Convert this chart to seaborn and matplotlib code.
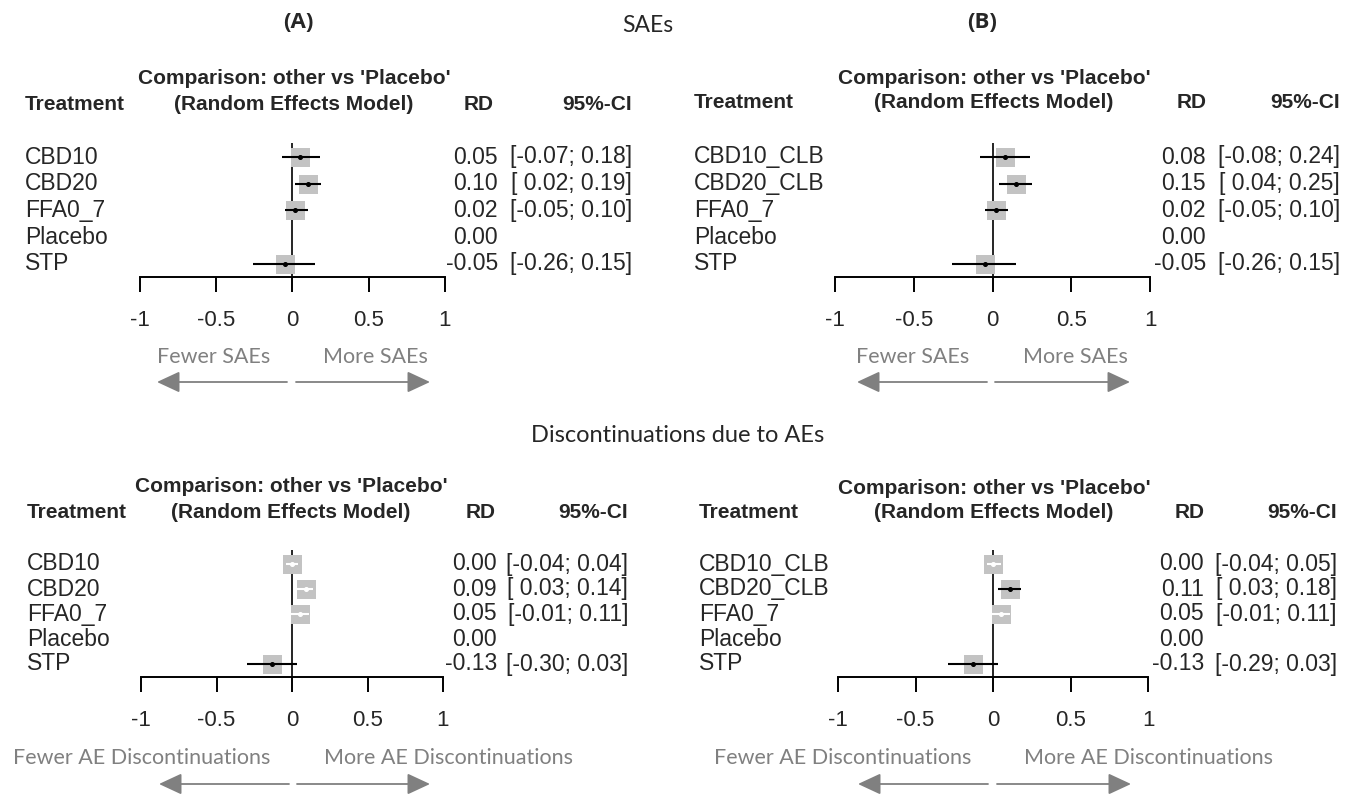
import numpy as np
import pandas as pd
import matplotlib
matplotlib.use("Agg")
import matplotlib.pyplot as plt
import seaborn as sns
from matplotlib.transforms import blended_transform_factory
from matplotlib.patches import FancyArrowPatch
from matplotlib.ticker import FuncFormatter

# ---------------- data ----------------
treat_plain = ["CBD10", "CBD20", "FFA0_7", "Placebo", "STP"]
treat_clb = ["CBD10_CLB", "CBD20_CLB", "FFA0_7", "Placebo", "STP"]

sae_a_rd = [0.05, 0.10, 0.02, 0.00, -0.05]
sae_a_lo = [-0.07, 0.02, -0.05, np.nan, -0.26]
sae_a_hi = [0.18, 0.19, 0.10, np.nan, 0.15]

sae_b_rd = [0.08, 0.15, 0.02, 0.00, -0.05]
sae_b_lo = [-0.08, 0.04, -0.05, np.nan, -0.26]
sae_b_hi = [0.24, 0.25, 0.10, np.nan, 0.15]

disc_a_rd = [0.00, 0.09, 0.05, 0.00, -0.13]
disc_a_lo = [-0.04, 0.03, -0.01, np.nan, -0.30]
disc_a_hi = [0.04, 0.14, 0.11, np.nan, 0.03]

disc_b_rd = [0.00, 0.11, 0.05, 0.00, -0.13]
disc_b_lo = [-0.04, 0.03, -0.01, np.nan, -0.29]
disc_b_hi = [0.05, 0.18, 0.11, np.nan, 0.03]

x_ticks = [-1, -0.5, 0, 0.5, 1]

# ---------------- style ----------------
sns.set_theme(style="white")
plt.rcParams["font.family"] = ["Liberation Sans", "DejaVu Sans"]
plt.rcParams["axes.unicode_minus"] = False

W, H = 1355, 795
fig = plt.figure(figsize=(W / 100, H / 100), dpi=100)
fig.patch.set_facecolor("white")


def fx(x):
    return x / W


def fy(y):
    return 1 - y / H


FOREST_FONT = ["Liberation Sans", "DejaVu Sans"]
TITLE_FONT = ["Lato", "DejaVu Sans"]
BOLD_TITLE_FONT = ["Open Sans", "DejaVu Sans"]
GRAY = "#808080"
BOX = "#c3c3c3"

panels = [
    dict(treat=treat_plain, rd=sae_a_rd, lo=sae_a_lo, hi=sae_a_hi,
         box=(139.5, 445, 143, 277), lab_left=25, comp_c=294, rd_head_right=494,
         rd_right=498, ci_right=632,
         y_comp=79, y_head=104, text_y=357, arrow_y=382,
         left_arrow=(287, 157), right_arrow=(296, 430), fewer_c=214, more_c=375,
         fewer="Fewer SAEs", more="More SAEs"),
    dict(treat=treat_clb, rd=sae_b_rd, lo=sae_b_lo, hi=sae_b_hi,
         box=(835, 1150, 143, 277), lab_left=694, comp_c=994, rd_head_right=1207,
         rd_right=1206, ci_right=1340,
         y_comp=78, y_head=103, text_y=357, arrow_y=382,
         left_arrow=(987, 857), right_arrow=(995, 1130), fewer_c=913, more_c=1075,
         fewer="Fewer SAEs", more="More SAEs"),
    dict(treat=treat_plain, rd=disc_a_rd, lo=disc_a_lo, hi=disc_a_hi,
         box=(141, 443, 550, 677), lab_left=27, comp_c=291, rd_head_right=496,
         rd_right=497, ci_right=628,
         y_comp=487, y_head=512, text_y=758, arrow_y=784,
         left_arrow=(289, 159), right_arrow=(297, 430), fewer_c=142, more_c=449,
         fewer="Fewer AE Discontinuations", more="More AE Discontinuations"),
    dict(treat=treat_clb, rd=disc_b_rd, lo=disc_b_lo, hi=disc_b_hi,
         box=(838, 1148, 550, 677), lab_left=699, comp_c=994, rd_head_right=1205,
         rd_right=1204, ci_right=1337,
         y_comp=488, y_head=513, text_y=758, arrow_y=784,
         left_arrow=(988, 858), right_arrow=(997, 1131), fewer_c=843, more_c=1149,
         fewer="Fewer AE Discontinuations", more="More AE Discontinuations"),
]

BOX_PX = 19.0

for p in panels:
    l, r, t, b = p["box"]
    ax = fig.add_axes([fx(l), fy(b), (r - l) / W, (b - t) / H])
    n = len(p["treat"])
    df = pd.DataFrame({"treat": p["treat"], "rd": p["rd"], "lo": p["lo"], "hi": p["hi"]})
    df["pos"] = np.arange(n)

    # geometry: first row 14px below top, last row 13px above axis line
    row_px = ((b - t) - 14 - 13) / (n - 1)
    ytop = -14 / row_px
    ybot = (n - 1) + 13 / row_px
    ax.set_xlim(-1, 1)
    ax.set_ylim(ybot, ytop)

    # reference line
    ax.axvline(0, color="black", lw=1.2, zorder=1)

    est = df.dropna(subset=["lo", "hi"])
    side_pt = BOX_PX * 72 / 100
    sns.scatterplot(data=est, x="rd", y="pos", marker="s", s=side_pt ** 2,
                    color=BOX, linewidth=0, ax=ax, zorder=3, legend=False)

    box_data = BOX_PX / ((r - l) / 2.0)
    for _, row in est.iterrows():
        col = "white" if (row["hi"] - row["lo"]) < box_data else "black"
        ax.hlines(row["pos"], row["lo"], row["hi"], color=col, lw=1.5, zorder=4)
        ax.plot([row["rd"]], [row["pos"]], marker="o", ms=2.6, color=col,
                mec=col, zorder=5)

    # axis
    for s in ["left", "right", "top"]:
        ax.spines[s].set_visible(False)
    ax.spines["bottom"].set_color("black")
    ax.spines["bottom"].set_linewidth(1.4)
    ax.set_xticks(x_ticks)
    ax.xaxis.set_major_formatter(FuncFormatter(lambda v, pos: f"{v:g}"))
    ax.tick_params(axis="x", direction="out", length=10.5, width=1.4, color="black",
                   pad=13, labelsize=16, bottom=True)
    for lab in ax.get_xticklabels():
        lab.set_family(FOREST_FONT)
    ax.set_yticks([])
    ax.set_xlabel("")
    ax.set_ylabel("")
    ax.patch.set_alpha(0)
    ax.grid(False)

    # headers
    fig.text(fx(p["comp_c"]), fy(p["y_comp"]), "Comparison: other vs 'Placebo'",
             ha="center", va="center", fontsize=15, fontweight="bold", family=FOREST_FONT)
    fig.text(fx(p["comp_c"]), fy(p["y_head"]), "(Random Effects Model)",
             ha="center", va="center", fontsize=15, fontweight="bold", family=FOREST_FONT)
    fig.text(fx(p["lab_left"]), fy(p["y_head"]), "Treatment",
             ha="left", va="center", fontsize=15, fontweight="bold", family=FOREST_FONT)
    fig.text(fx(p["rd_head_right"]), fy(p["y_head"]), "RD",
             ha="right", va="center", fontsize=15, fontweight="bold", family=FOREST_FONT)
    fig.text(fx(p["ci_right"]), fy(p["y_head"]), "95%-CI",
             ha="right", va="center", fontsize=15, fontweight="bold", family=FOREST_FONT)

    # row text
    tr = blended_transform_factory(fig.transFigure, ax.transData)
    for _, row in df.iterrows():
        fig.text(fx(p["lab_left"]), row["pos"], row["treat"], transform=tr,
                 ha="left", va="center", fontsize=16.5, family=FOREST_FONT)
        fig.text(fx(p["rd_right"]), row["pos"], f"{row['rd']:.2f}", transform=tr,
                 ha="right", va="center", fontsize=16.5, family=FOREST_FONT)
        if not np.isnan(row["lo"]):
            ci = f"[{row['lo']:5.2f};{row['hi']:5.2f}]"
            fig.text(fx(p["ci_right"]), row["pos"], ci, transform=tr,
                     ha="right", va="center", fontsize=16.5, family=FOREST_FONT)

    # direction labels and arrows
    fig.text(fx(p["fewer_c"]), fy(p["text_y"]), p["fewer"], ha="center", va="center",
             fontsize=15.5, color=GRAY, family=TITLE_FONT)
    fig.text(fx(p["more_c"]), fy(p["text_y"]), p["more"], ha="center", va="center",
             fontsize=15.5, color=GRAY, family=TITLE_FONT)
    for (x0, x1) in (p["left_arrow"], p["right_arrow"]):
        arr = FancyArrowPatch((fx(x0), fy(p["arrow_y"])), (fx(x1), fy(p["arrow_y"])),
                              transform=fig.transFigure,
                              arrowstyle="-|>,head_length=14,head_width=6.5",
                              mutation_scale=1, color=GRAY, lw=1.3,
                              shrinkA=0, shrinkB=0)
        fig.patches.append(arr)

# titles
fig.text(fx(298), fy(23), "(A)", ha="center", va="center", fontsize=16,
         fontweight="bold", family=BOLD_TITLE_FONT)
fig.text(fx(648), fy(25), "SAEs", ha="center", va="center", fontsize=16.5,
         family=TITLE_FONT)
fig.text(fx(982), fy(23), "(B)", ha="center", va="center", fontsize=16,
         fontweight="bold", family=BOLD_TITLE_FONT)
fig.text(fx(678), fy(436), "Discontinuations due to AEs", ha="center", va="center",
         fontsize=17, family=TITLE_FONT)

fig.savefig("out.png", dpi=100, facecolor="white")
